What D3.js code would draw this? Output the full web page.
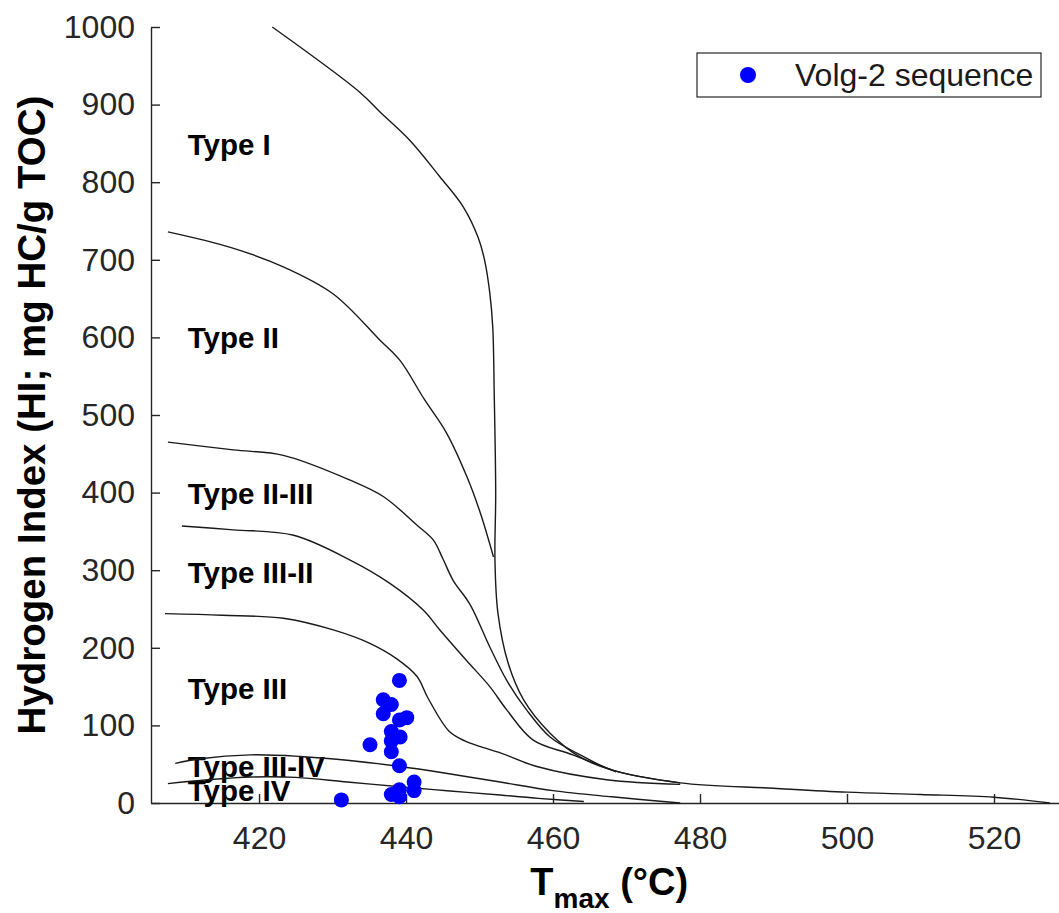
<!DOCTYPE html>
<html>
<head>
<meta charset="utf-8">
<script src="https://cdn.jsdelivr.net/npm/d3@7"></script>
<style>
  html, body { margin: 0; padding: 0; background: #ffffff; }
  svg { display: block; }
</style>
</head>
<body>
<svg id="chart" width="1059" height="913"></svg>
<script>
// Kerogen type boundary curves (Tmax in °C, HI in mg HC/g TOC)
const typeICurve = [
  [421.8, 1000], [433.7, 916], [436.5, 890], [440.5, 854], [444.6, 807],
  [447.8, 768], [449.8, 729], [450.7, 699], [451.4, 657], [451.8, 613], [452.0, 527],
  [452.2, 399], [452.1, 313], [452.5, 245], [453.9, 180], [456.0, 133], [459.6, 90],
  [463.7, 59], [468.2, 42], [477.3, 26], [490, 19], [500, 14], [510, 11], [520, 7.5], [527.6, 0]
];
const typeIICurve = [
  [407.6, 736], [416.1, 716], [423.3, 691], [430.1, 656], [436.5, 596], [439.2, 570],
  [442.5, 520], [445.5, 477], [448.3, 420], [450.1, 374], [451.9, 317]
];
const typeIIIIICurve = [
  [407.6, 465], [416.5, 455], [423.3, 448], [432.4, 416], [436.9, 395], [441.5, 358],
  [443.7, 339], [445.0, 315], [446.4, 287], [448.7, 256], [451.4, 201], [453.7, 158],
  [456.4, 120], [459.6, 85], [463.7, 62], [468.2, 42], [477.3, 26]
];
const typeIIIIICurveB = [
  [409.5, 357], [416.5, 352], [424.7, 345], [432.4, 313], [437.8, 283], [442.3, 249],
  [444.6, 223], [448.2, 184], [451.4, 150], [453.7, 120], [457.3, 81], [462.7, 62], [468.6, 40]
];
const typeIIICurve = [
  [407.2, 244], [415, 242], [423.3, 238], [430.1, 223], [435, 206], [438.7, 186],
  [441.5, 163], [443, 135], [445.9, 92], [448, 80], [450, 73], [453, 64], [457.8, 47],
  [467.3, 30], [477.3, 24]
];
const typeIIIIVCurve = [
  [408.6, 51], [412, 57], [418.8, 62], [425.6, 60], [432, 55], [439.2, 47], [445, 39],
  [452.8, 27], [460, 16], [468, 8], [477.3, 0]
];
const typeIVCurve = [
  [407.6, 25], [413, 30], [419, 33.5], [425, 33], [432, 27], [439.2, 21], [446, 15.5],
  [452.8, 10.3], [458, 6], [464.2, 2]
];

// Zone names and the HI level each name sits at (left edge at Tmax 410.3)
const zoneNames = ["Type I", "Type II", "Type II-III", "Type III-II", "Type III", "Type III-IV", "Type IV"];
const zoneHI = [835, 586, 385, 283, 134, 34, 2];
const zoneTmax = 410.3;

// Volg-2 sequence samples
const sampleTmax = [439.1, 436.9, 438.0, 436.9, 440.1, 439.1, 438.0, 439.2, 435.1, 438.0,
                    438.0, 439.1, 441.1, 441.1, 439.1, 438.0, 439.1, 431.2];
const sampleHI   = [158, 133, 127, 115, 110, 107, 92, 85, 75, 80,
                    66, 48, 27, 16, 17, 11, 8, 4];

const xTicks = [420, 440, 460, 480, 500, 520];
const yTicks = [0, 100, 200, 300, 400, 500, 600, 700, 800, 900, 1000];
const seriesName = "Volg-2 sequence";

const svg = d3.select("#chart");
const FONT = "'Liberation Sans', Arial, Helvetica, sans-serif";
const AX = "#262626";

const x = d3.scaleLinear().domain([405.3, 530]).range([151, 1067.5]);
const y = d3.scaleLinear().domain([0, 1000]).range([803, 27]);

svg.append("rect").attr("width", 1059).attr("height", 913).attr("fill", "#fff");

// Axes with inward ticks
const xAxis = d3.axisBottom(x).tickValues(xTicks).tickFormat(d3.format("d"))
  .tickSizeInner(-9).tickSizeOuter(0).tickPadding(23);
const yAxis = d3.axisLeft(y).tickValues(yTicks).tickFormat(d3.format("d"))
  .tickSizeInner(-9).tickSizeOuter(0).tickPadding(16);

const gx = svg.append("g").attr("transform", `translate(0,${y(0)})`).call(xAxis);
const gy = svg.append("g").attr("transform", `translate(${x.range()[0]},0)`).call(yAxis);
[gx, gy].forEach(g => {
  g.select(".domain").attr("stroke", AX).attr("stroke-width", 1.4);
  g.selectAll(".tick line").attr("stroke", AX).attr("stroke-width", 1.4);
  g.selectAll(".tick text").attr("fill", AX).style("font-family", FONT).style("font-size", "32px");
});

// Zone labels
svg.append("g").selectAll("text")
  .data(zoneNames)
  .join("text")
  .attr("x", x(zoneTmax))
  .attr("y", (d, i) => y(zoneHI[i]))
  .attr("fill", "#000")
  .style("font-family", FONT)
  .style("font-size", "29.5px")
  .style("font-weight", "bold")
  .text(d => d);

// Boundary curves
const line = d3.line().x(d => x(d[0])).y(d => y(d[1])).curve(d3.curveCatmullRom.alpha(0.5));
const curves = [typeICurve, typeIICurve, typeIIIIICurve, typeIIIIICurveB, typeIIICurve, typeIIIIVCurve, typeIVCurve];
svg.append("g").selectAll("path")
  .data(curves)
  .join("path")
  .attr("d", line)
  .attr("fill", "none")
  .attr("stroke", "#1a1a1a")
  .attr("stroke-width", 1.4)
  .attr("stroke-linejoin", "round");

// Sample points
svg.append("g").selectAll("circle")
  .data(sampleTmax)
  .join("circle")
  .attr("cx", d => x(d))
  .attr("cy", (d, i) => y(sampleHI[i]))
  .attr("r", 7.5)
  .attr("fill", "#0000ff");

// Axis titles
const yMid = (y.range()[0] + y.range()[1]) / 2;
svg.append("text")
  .attr("transform", `translate(45,${yMid}) rotate(-90)`)
  .attr("text-anchor", "middle")
  .attr("fill", "#000")
  .style("font-family", FONT)
  .style("font-size", "38.5px")
  .style("font-weight", "bold")
  .text("Hydrogen Index (HI; mg HC/g TOC)");

const xMid = (x.range()[0] + x.range()[1]) / 2;
const xt = svg.append("text")
  .attr("x", xMid)
  .attr("y", 895)
  .attr("text-anchor", "middle")
  .attr("fill", "#000")
  .style("font-family", FONT)
  .style("font-weight", "bold")
  .style("font-size", "38px");
xt.append("tspan").text("T");
xt.append("tspan").attr("dy", 13).style("font-size", "28px").text("max");
xt.append("tspan").attr("dy", -13).text("\u00a0(°C)");

// Legend
const lg = svg.append("g").attr("transform", "translate(697,53)");
lg.append("rect").attr("width", 344).attr("height", 44)
  .attr("fill", "#fff").attr("stroke", AX).attr("stroke-width", 1.2);
lg.append("circle").attr("cx", 51).attr("cy", 22).attr("r", 8).attr("fill", "#0000ff");
lg.append("text").attr("x", 98).attr("y", 33)
  .attr("fill", "#1a1a1a")
  .style("font-family", FONT).style("font-size", "32px")
  .text(seriesName);
</script>
</body>
</html>
